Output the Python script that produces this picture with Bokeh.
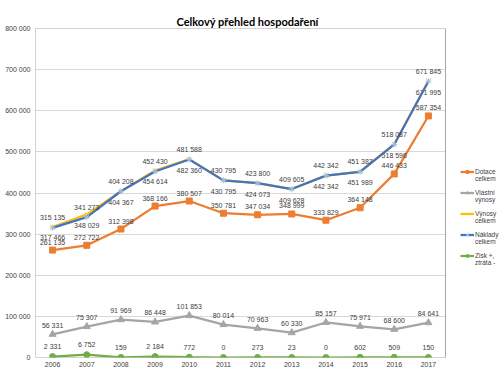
from bokeh.plotting import figure
from bokeh.models import ColumnDataSource, Range1d, FixedTicker, Legend, LegendItem
from bokeh.core.properties import value
from bokeh.embed import file_html
from bokeh.resources import INLINE

years = ["2006", "2007", "2008", "2009", "2010", "2011", "2012", "2013", "2014", "2015", "2016", "2017"]
dotace = [261135, 272722, 312398, 368166, 380507, 350781, 347034, 348999, 333829, 364148, 446433, 587354]
vlastni = [56331, 75307, 91969, 86448, 101853, 80014, 70963, 60330, 85157, 75971, 68600, 84641]
vynosy = [317466, 348029, 404367, 454614, 482360, 430795, 424073, 409628, 442342, 451989, 518596, 671995]
naklady = [315135, 341273, 404208, 452430, 481588, 430795, 423800, 409605, 442342, 451387, 518087, 671845]
zisk = [2331, 6752, 159, 2184, 772, 0, 273, 23, 0, 602, 509, 150]

series_names = [("Dotace", "celkem"), ("Vlastní", "výnosy"), ("Výnosy", "celkem"),
                ("Náklady", "celkem"), ("Zisk +,", "ztráta -")]

y_ticks = [0, 100000, 200000, 300000, 400000, 500000, 600000, 700000, 800000]
y_tick_labels = ["0", "100 000", "200 000", "300 000", "400 000", "500 000", "600 000", "700 000", "800 000"]

FONT = "Liberation Sans"
LABEL_COLOR = "#404040"

n = len(years)
xs = list(range(n))
PLOT_W = 410          # pixel width of the category area
LEGEND_W = 55         # extra frame width used for the legend
unit = PLOT_W / n
x_end = n - 0.5 + LEGEND_W / unit


def fmt(v):
    return f"{v:,}".replace(",", " ")


p = figure(frame_width=PLOT_W + LEGEND_W, frame_height=329,
           x_range=Range1d(-0.5, x_end), y_range=Range1d(y_ticks[0], y_ticks[-1]),
           output_backend="svg", toolbar_location=None,
           min_border_left=35, min_border_right=0, min_border_top=28, min_border_bottom=18)
p.background_fill_color = "white"
p.border_fill_color = "white"
p.outline_line_color = None

p.title.text = "Celkový přehled hospodaření"
p.title.text_font = "Lato"
p.title.text_font_size = "11px"
p.title.text_font_style = "bold"
p.title.text_color = "#000000"
p.title.align = "left"
p.title.offset = 141
p.title.standoff = 0
p.title.vertical_align = "middle"

p.xgrid.grid_line_color = None
p.ygrid.grid_line_color = "#d9d9d9"
p.yaxis.ticker = FixedTicker(ticks=y_ticks)
p.yaxis.major_label_overrides = {t: l for t, l in zip(y_ticks, y_tick_labels)}
p.xaxis.ticker = FixedTicker(ticks=xs)
p.xaxis.major_label_overrides = {i: y for i, y in zip(xs, years)}
for ax in (p.xaxis[0], p.yaxis[0]):
    ax.axis_line_color = None
    ax.major_tick_line_color = None
    ax.minor_tick_line_color = None
    ax.major_tick_out = 0
    ax.major_tick_in = 0
    ax.minor_tick_out = 0
    ax.minor_tick_in = 0
    ax.major_label_text_font = FONT
    ax.major_label_text_font_size = "7px"
    ax.major_label_text_color = "#404040"
p.yaxis.major_label_standoff = 5
p.xaxis.major_label_standoff = 4

# white area to the right of the plot area (legend zone) and plot-area border
p.quad(left=[n - 0.5], right=[x_end], bottom=[y_ticks[0]], top=[y_ticks[-1]],
       fill_color="white", line_color=None)
p.quad(left=[-0.5], right=[n - 0.5], bottom=[y_ticks[0]], top=[y_ticks[-1]],
       fill_color=None, line_color="#a6a6a6", line_width=1)

series = [
    (dotace, "#ED7D31", "square", 6, "#ED7D31", -8),
    (vlastni, "#A5A5A5", "triangle", 7, "#A5A5A5", -9),
    (vynosy, "#FFC000", "x", 6, "#FFC000", 11),
    (naklady, "#4472C4", "asterisk", 6, "#9DC3E6", -10),
    (zisk, "#70AD47", "circle", 6, "#70AD47", -10),
]

# invisible renderer used for the second line / spacer rows of the legend
blank = p.line(x=[], y=[], line_alpha=0)

items = []
for (l1, l2), (vals, color, marker, msize, mcolor, off) in zip(series_names, series):
    src = ColumnDataSource(dict(x=xs, y=vals, t=[fmt(v) for v in vals]))
    r1 = p.line("x", "y", source=src, line_color=color, line_width=2.25)
    r2 = p.scatter("x", "y", source=src, marker=marker, size=msize, fill_color=mcolor,
                   line_color=mcolor, line_width=1)
    p.text("x", "y", text="t", source=src, text_font=value(FONT), text_font_size="7px",
           text_color=LABEL_COLOR, text_align="center", text_baseline="middle", y_offset=off)
    items.append(LegendItem(label=value(l1), renderers=[r1, r2]))
    items.append(LegendItem(label=value(l2), renderers=[blank]))
    items.append(LegendItem(label=value(" "), renderers=[blank]))
items = items[:-1]

legend = Legend(items=items, location=(425, 91), label_text_font=FONT, label_text_font_size="6.5px",
                label_text_color="#404040", glyph_width=14, glyph_height=7, spacing=0,
                padding=0, margin=0, border_line_color=None, background_fill_alpha=0,
                label_standoff=1, label_height=7, label_text_baseline="middle")
p.add_layout(legend, "center")

open("out.html", "w").write(file_html(p, INLINE))
